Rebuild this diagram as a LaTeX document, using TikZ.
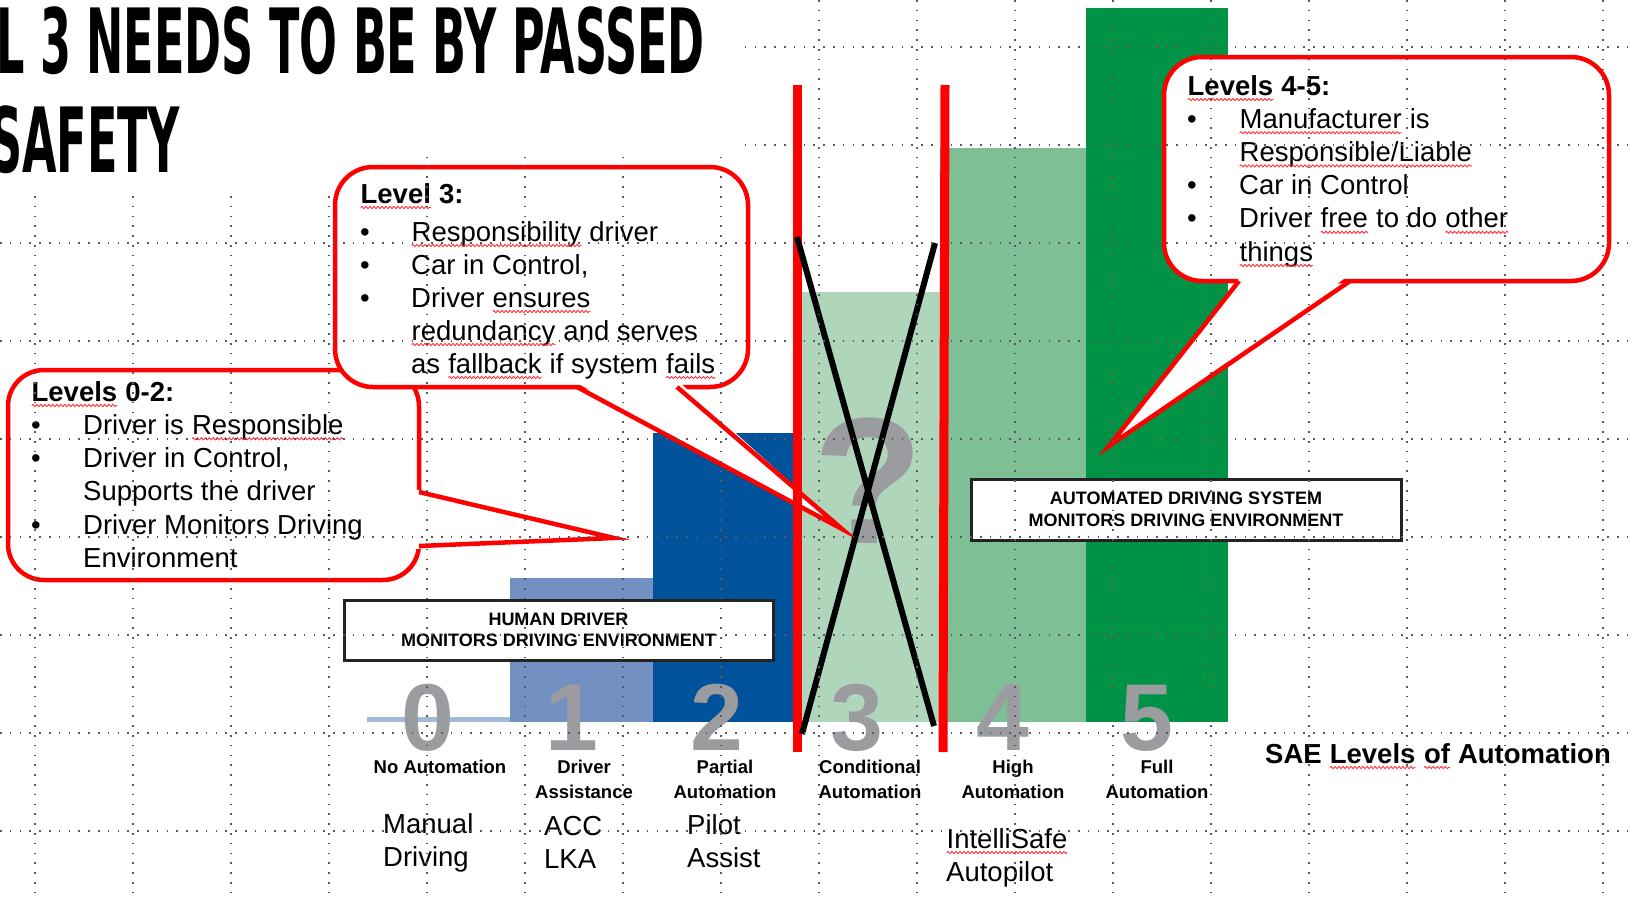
\documentclass[tikz,border=0pt]{standalone}
\usepackage{fontspec}
\setmainfont{Liberation Sans}
\newfontfamily\titlefont{DejaVu Sans}
\usetikzlibrary{positioning,decorations.pathmorphing}

\definecolor{lvlzero}{RGB}{163,184,218}
\definecolor{lvlone}{RGB}{114,145,194}
\definecolor{lvltwo}{RGB}{0,83,155}
\definecolor{lvlthree}{RGB}{175,214,187}
\definecolor{lvlfour}{RGB}{126,191,149}
\definecolor{lvlfive}{RGB}{0,147,70}
\definecolor{numgray}{RGB}{155,156,160}
\definecolor{boxline}{RGB}{35,35,35}
\definecolor{dotgray}{RGB}{90,90,90}

\tikzstyle{callout}=[draw=red,line width=4.5pt,fill=white,rounded corners=36pt]
\tikzstyle{wedge}=[draw=red,line width=4.5pt,line join=miter]
\tikzstyle{envbox}=[draw=boxline,line width=3pt,fill=white,inner sep=0pt,font=\bfseries\fontsize{18}{21.5}\selectfont,align=center]
\tikzstyle{digit}=[anchor=base,inner sep=0pt,text=numgray,font=\bfseries\fontsize{95}{95}\selectfont]
\tikzstyle{lvlname}=[anchor=base,inner sep=0pt,font=\bfseries\fontsize{18.5}{25}\selectfont]
\tikzstyle{example}=[anchor=base west,inner sep=0pt,font=\fontsize{27.5}{33}\selectfont]
\tikzstyle{bubbletext}=[anchor=base west,inner sep=0pt,font=\fontsize{27.5}{33.3}\selectfont]
\tikzstyle{gridline}=[dotgray,line width=1.5pt,dash pattern=on 1.5pt off 8.3pt]

\newcommand{\sq}[1]{\tikz[baseline=(w.base)]{\node[inner sep=0pt,outer sep=0pt,anchor=base] (w) {#1};
  \draw[red!80,line width=0.9pt,decorate,decoration={snake,amplitude=1.1pt,segment length=4pt}] ([yshift=-4.5pt]w.base west) -- ([yshift=-4.5pt]w.base east);}}
\newcommand{\stackc}[1]{\begin{tabular}[t]{@{}c@{}}#1\end{tabular}}
\newcommand{\stackl}[1]{\begin{tabular}[t]{@{}l@{}}#1\end{tabular}}

\begin{document}
\begin{tikzpicture}[x=1pt,y=-1pt]
\useasboundingbox (0,0) rectangle (1633,902);

% bars
\fill[lvlzero] (367,717) rectangle (510,722);
\fill[lvlone] (510,578) rectangle (653,722);
\fill[lvltwo] (653,433) rectangle (797,722);
\fill[lvlthree] (797,292) rectangle (940,722);
\fill[lvlfour] (940,148) rectangle (1086,722);
\fill[lvlfive] (1086,8) rectangle (1228,722);

\node (qmark) [digit,font=\bfseries\fontsize{180}{180}\selectfont] at (868,543) {?};
\node (d0) [digit] at (428,750) {0};
\node (d1) [digit] at (572,750) {1};
\node (d2) [digit] at (717,750) {2};
\node (d3) [digit] at (857,750) {3};
\node (d4) [digit] at (1003,750) {4};
\node (d5) [digit] at (1147,750) {5};

\node (n0) [lvlname] at (440,773) {No Automation};
\node (n1) [lvlname] at (584,773) {\stackc{Driver\\Assistance}};
\node (n2) [lvlname] at (725,773) {\stackc{Partial\\Automation}};
\node (n3) [lvlname] at (870,773) {\stackc{Conditional\\Automation}};
\node (n4) [lvlname] at (1013,773) {\stackc{High\\Automation}};
\node (n5) [lvlname] at (1157,773) {\stackc{Full\\Automation}};

\node (ex0) [example] at (383,833) {\stackl{Manual\\Driving}};
\node (ex1) [example] at (544,835) {\stackl{ACC\\LKA}};
\node (ex2) [example] at (687,834) {\stackl{Pilot\\Assist}};
\node (ex4) [example] at (946,848) {\stackl{\sq{IntelliSafe}\\Autopilot}};
\node (sae) [example,font=\bfseries\fontsize{27.5}{33}\selectfont] at (1265,763) {SAE \sq{Levels} \sq{of} Automation};

\node (human) [envbox,minimum width=429pt,minimum height=60pt] at (558.5,630) {HUMAN DRIVER\\MONITORS DRIVING ENVIRONMENT};
\node (ads) [envbox,minimum width=430pt,minimum height=61pt] at (1186,509.5) {AUTOMATED DRIVING SYSTEM\\MONITORS DRIVING ENVIRONMENT};

% callouts
\draw[callout] (8,370) rectangle (419,580);
\fill[white] (414,489) -- (614,538) -- (414,549) -- cycle;
\draw[wedge] (419,492) -- (614,538) -- (419,546);
\node (low) [bubbletext] at (31,401) {\begin{tabular}[t]{@{}p{52pt}@{}l@{}}
\multicolumn{2}{@{}l@{}}{\textbf{\sq{Levels} 0-2:}}\\
\textbullet & Driver is \sq{Responsible}\\
\textbullet & Driver in Control,\\
 & Supports the driver\\
\textbullet & Driver Monitors Driving\\
 & Environment
\end{tabular}};

\draw[callout,rounded corners=38pt] (335,167) rectangle (748,387);
\fill[white] (575,382) -- (842,529) -- (679,382) -- cycle;
\draw[wedge] (577,387) -- (842,529) -- (677,387);
\node (mid) [bubbletext,font=\fontsize{27.5}{33}\selectfont] at (360,203) {\begin{tabular}[t]{@{}p{51pt}@{}l@{}}
\multicolumn{2}{@{}l@{}}{\textbf{\sq{Level} 3:}}\\[5pt]
\textbullet & \sq{Responsibility} driver\\
\textbullet & Car in Control,\\
\textbullet & Driver \sq{ensures}\\
 & \sq{redundancy} and serves\\
 & as \sq{fallback} if system \sq{fails}
\end{tabular}};

\draw[callout,rounded corners=38pt] (1164,57) rectangle (1609,281);
\fill[white] (1241,276) -- (1109,446) -- (1348,276) -- cycle;
\draw[wedge] (1239,281) -- (1109,446) -- (1350,281);
\node (high) [bubbletext,font=\fontsize{27.5}{33.2}\selectfont] at (1187,95) {\begin{tabular}[t]{@{}p{52pt}@{}l@{}}
\multicolumn{2}{@{}l@{}}{\textbf{\sq{Levels} 4-5:}}\\
\textbullet & \sq{Manufacturer} is\\
 & \sq{Responsible/Liable}\\
\textbullet & Car in Control\\
\textbullet & Driver \sq{free} to do \sq{other}\\
 & \sq{things}
\end{tabular}};

% level 3 struck out
\draw[red,line width=9pt] (797,85) -- (797,752);
\draw[red,line width=9pt] (945,85) -- (943,752);
\draw[black,line width=6pt] (797,237) -- (934,726);
\draw[black,line width=6pt] (935,243) -- (802,734);

\begin{scope}
\clip (0,190) rectangle (1633,902) (330,155) rectangle (1633,190) (737,0) rectangle (1633,155);
\foreach \gx in {35,133,...,1603} \draw[gridline] (\gx,0) -- (\gx,902);
\foreach \gy in {47,145,...,831} \draw[gridline] (0,\gy) -- (1633,\gy);
\end{scope}

\node (head1) [anchor=base west,inner sep=0pt] at (-4,73) {\titlefont\bfseries\fontsize{90}{90}\selectfont\scalebox{0.495}[1]{L 3 NEEDS TO BE BY PASSED}};
\node (head2) [anchor=base west,inner sep=0pt] at (-10,172) {\titlefont\bfseries\fontsize{90}{90}\selectfont\scalebox{0.495}[1]{SAFETY}};
\end{tikzpicture}
\end{document}
